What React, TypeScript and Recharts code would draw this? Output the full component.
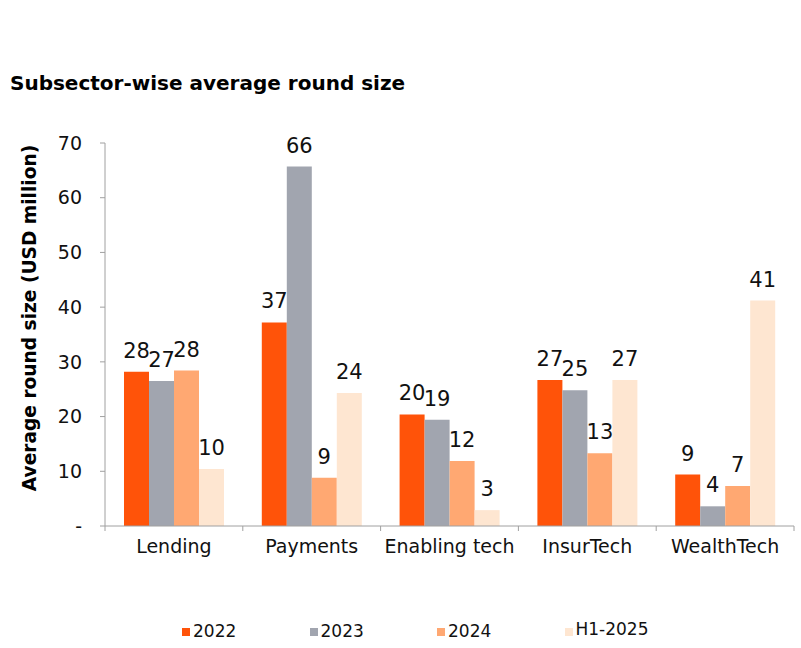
import React from 'react';
import { BarChart, Bar, XAxis, YAxis, Legend, LabelList, Label } from 'recharts';

const categories = ['Lending', 'Payments', 'Enabling tech', 'InsurTech', 'WealthTech'];
const seriesNames = ['2022', '2023', '2024', 'H1-2025'];
const values2022 = [28.2, 37.2, 20.4, 26.7, 9.4];
const values2023 = [26.5, 65.7, 19.4, 24.8, 3.6];
const values2024 = [28.4, 8.8, 11.9, 13.3, 7.3];
const valuesH1 = [10.4, 24.3, 2.9, 26.7, 41.2];
const yTicks = [0, 10, 20, 30, 40, 50, 60, 70];

const colors = ['#FF5309', '#A1A5AF', '#FFA872', '#FEE6D1'];
const keys = ['y2022', 'y2023', 'y2024', 'yH1'];

const data = categories.map((name, i) => ({
    name,
    y2022: values2022[i],
    y2023: values2023[i],
    y2024: values2024[i],
    yH1: valuesH1[i],
}));

const FONT = '"DejaVu Sans", sans-serif';
const CHART_W = 801;
const CHART_H = 648;
const MARGIN = { top: 143, right: 7, bottom: 92, left: 0 };
const Y_W = 105;
const PLOT_W = CHART_W - MARGIN.right - MARGIN.left - Y_W;
const BAND = PLOT_W / categories.length;

const CategoryTick = (props: any) => {
    const { x, y, payload, index } = props;
    const top = y - 14;
    return (
        <g>
            <line x1={x - BAND / 2} y1={top} x2={x - BAND / 2} y2={top + 5} stroke="#A0A0A0" />
            {index === categories.length - 1 && (
                <line x1={x + BAND / 2} y1={top} x2={x + BAND / 2} y2={top + 5} stroke="#A0A0A0" />
            )}
            <text x={x} y={y} dy="0.71em" textAnchor="middle" fontSize={19} fontFamily={FONT} fill="#111">
                {payload.value}
            </text>
        </g>
    );
};

const LegendContent = () => (
    <div style={{ display: 'flex', fontFamily: FONT }}>
        {seriesNames.map((s, i) => (
            <div key={s} style={{ display: 'flex', alignItems: 'center', width: 127.5 }}>
                <span style={{ display: 'inline-block', width: 8, height: 8, background: colors[i], marginRight: 3 }} />
                <span style={{ fontSize: 17, lineHeight: '17px', color: '#111', position: 'relative', top: i === 3 ? -2 : 0 }}>{s}</span>
            </div>
        ))}
    </div>
);

const App: React.FC = () => {
    return (
        <div style={{ position: 'absolute', left: 0, top: 0, width: CHART_W, height: CHART_H, background: '#fff', fontFamily: FONT }}>
            <div style={{ position: 'absolute', left: 10, top: 71, fontSize: 20, fontWeight: 'bold', color: '#000', whiteSpace: 'nowrap' }}>
                Subsector-wise average round size
            </div>
            <BarChart width={CHART_W} height={CHART_H} data={data} margin={MARGIN} barGap={0} barSize={25}>
                <XAxis
                    dataKey="name"
                    height={30}
                    tickLine={false}
                    tickSize={6}
                    tickMargin={8}
                    stroke="#A0A0A0"
                    tick={<CategoryTick />}
                    interval={0}
                />
                <YAxis
                    width={Y_W}
                    domain={[0, 70]}
                    ticks={yTicks}
                    interval={0}
                    tickSize={5}
                    tickMargin={18}
                    stroke="#A0A0A0"
                    tick={{ fontSize: 19, fontFamily: FONT, fill: '#111' }}
                    tickFormatter={(v: number) => (v === 0 ? '-' : String(v))}
                >
                    <Label
                        content={() => (
                            <text
                                x={36}
                                y={318}
                                transform="rotate(-90, 36, 318)"
                                textAnchor="middle"
                                fontSize={18.6}
                                fontWeight="bold"
                                fontFamily={FONT}
                                fill="#000"
                            >
                                Average round size (USD million)
                            </text>
                        )}
                    />
                </YAxis>
                <Legend
                    verticalAlign="middle"
                    layout="horizontal"
                    content={<LegendContent />}
                    wrapperStyle={{ position: 'absolute', left: 182, top: 623, width: 520, margin: 0 }}
                />
                {keys.map((k, i) => (
                    <Bar key={k} dataKey={k} name={seriesNames[i]} fill={colors[i]} isAnimationActive={false}>
                        <LabelList
                            dataKey={k}
                            position="top"
                            offset={14}
                            fontSize={21}
                            fontFamily={FONT}
                            fill="#111"
                            formatter={(v: any) => Math.round(Number(v))}
                        />
                    </Bar>
                ))}
            </BarChart>
        </div>
    );
};

export default App;
